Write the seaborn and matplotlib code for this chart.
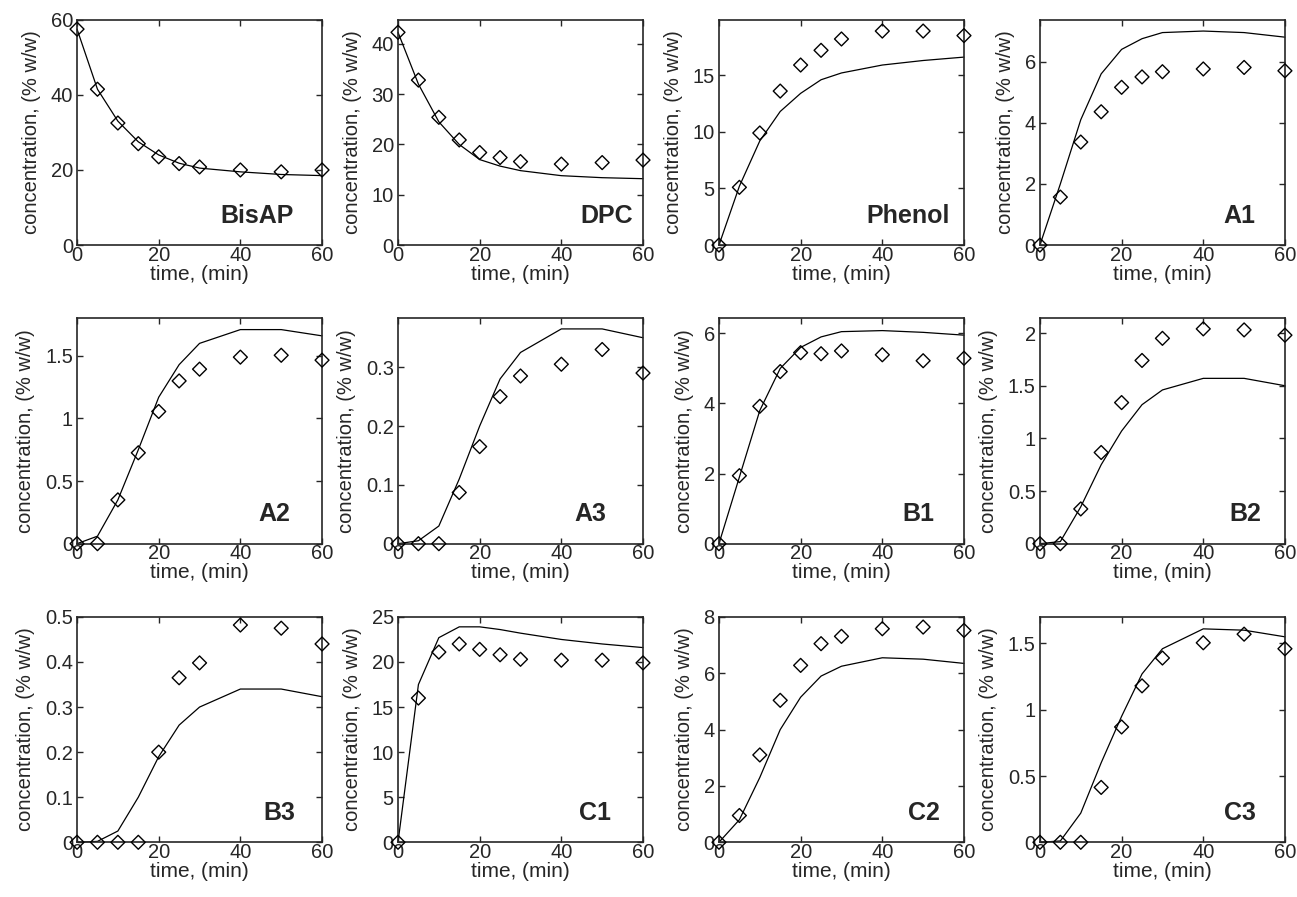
import numpy as np
import pandas as pd
import seaborn as sns
import matplotlib.pyplot as plt

# sampling times (min)
time = [0, 5, 10, 15, 20, 25, 30, 40, 50, 60]

species = ['BisAP', 'DPC', 'Phenol', 'A1',
           'A2', 'A3', 'B1', 'B2',
           'B3', 'C1', 'C2', 'C3']

# measured concentrations (% w/w), diamonds
exp_bisap = [57.5, 41.5, 32.5, 27.0, 23.5, 21.7, 20.8, 20.0, 19.5, 20.0]
exp_dpc = [42.3, 32.8, 25.4, 20.9, 18.4, 17.4, 16.6, 16.1, 16.4, 16.9]
exp_phenol = [0.0, 5.1, 9.9, 13.6, 15.9, 17.2, 18.2, 18.9, 18.9, 18.5]
exp_a1 = [0.0, 1.57, 3.37, 4.36, 5.16, 5.5, 5.67, 5.76, 5.81, 5.7]
exp_a2 = [0.0, 0.0, 0.35, 0.726, 1.056, 1.30, 1.394, 1.49, 1.505, 1.466]
exp_a3 = [0.0, 0.0, 0.0, 0.087, 0.165, 0.25, 0.285, 0.305, 0.33, 0.29]
exp_b1 = [0.0, 1.94, 3.92, 4.91, 5.45, 5.42, 5.5, 5.39, 5.22, 5.29]
exp_b2 = [0.0, 0.0, 0.33, 0.866, 1.34, 1.74, 1.95, 2.04, 2.03, 1.98]
exp_b3 = [0.0, 0.0, 0.0, 0.0, 0.2, 0.365, 0.398, 0.482, 0.475, 0.44]
exp_c1 = [0.0, 16.0, 21.1, 22.0, 21.4, 20.8, 20.3, 20.2, 20.2, 19.9]
exp_c2 = [0.0, 0.95, 3.1, 5.04, 6.28, 7.05, 7.31, 7.58, 7.64, 7.52]
exp_c3 = [0.0, 0.0, 0.0, 0.414, 0.87, 1.18, 1.39, 1.505, 1.57, 1.46]

# model predictions (% w/w), solid line
mod_bisap = [57.5, 41.5, 33.0, 27.5, 24.0, 21.8, 20.5, 19.5, 18.8, 18.5]
mod_dpc = [42.3, 32.0, 24.5, 20.0, 17.0, 15.7, 14.8, 13.8, 13.4, 13.2]
mod_phenol = [0.0, 5.2, 9.2, 11.8, 13.4, 14.6, 15.2, 15.9, 16.3, 16.6]
mod_a1 = [0.0, 2.0, 4.1, 5.6, 6.4, 6.75, 6.95, 7.0, 6.95, 6.8]
mod_a2 = [0.0, 0.06, 0.35, 0.75, 1.17, 1.43, 1.6, 1.71, 1.71, 1.66]
mod_a3 = [0.0, 0.005, 0.03, 0.11, 0.2, 0.28, 0.325, 0.365, 0.365, 0.35]
mod_b1 = [0.0, 1.9, 3.8, 5.0, 5.6, 5.9, 6.05, 6.08, 6.03, 5.95]
mod_b2 = [0.0, 0.02, 0.35, 0.75, 1.07, 1.32, 1.46, 1.57, 1.57, 1.5]
mod_b3 = [0.0, 0.002, 0.025, 0.1, 0.19, 0.26, 0.3, 0.34, 0.34, 0.323]
mod_c1 = [0.0, 17.5, 22.7, 23.9, 23.9, 23.6, 23.2, 22.5, 22.0, 21.6]
mod_c2 = [0.0, 0.8, 2.3, 4.0, 5.15, 5.9, 6.25, 6.55, 6.5, 6.35]
mod_c3 = [0.0, 0.01, 0.22, 0.6, 0.95, 1.27, 1.46, 1.61, 1.6, 1.55]

exp_all = [exp_bisap, exp_dpc, exp_phenol, exp_a1, exp_a2, exp_a3,
           exp_b1, exp_b2, exp_b3, exp_c1, exp_c2, exp_c3]
mod_all = [mod_bisap, mod_dpc, mod_phenol, mod_a1, mod_a2, mod_a3,
           mod_b1, mod_b2, mod_b3, mod_c1, mod_c2, mod_c3]

# axis settings per panel
y_top = [60, 44.8, 19.9, 7.37, 1.8, 0.383, 6.43, 2.14, 0.5, 25, 8, 1.7]
y_step = [20, 10, 5, 2, 0.5, 0.1, 2, 0.5, 0.1, 5, 2, 0.5]
label_x = [0.885, 0.96, 0.94, 0.88, 0.87, 0.85, 0.88, 0.905, 0.89, 0.87, 0.90, 0.88]

sns.set_style("ticks")
plt.rcParams['font.family'] = ['Liberation Sans', 'DejaVu Sans']

fig, axes = plt.subplots(3, 4, figsize=(12.97, 8.97), dpi=100)
fig.subplots_adjust(left=0.0594, right=0.9907, top=0.978, bottom=0.061,
                    wspace=0.31, hspace=0.325)

for k, ax in enumerate(axes.flat):
    df = pd.DataFrame({'time': time, 'exp': exp_all[k], 'model': mod_all[k]})

    sns.lineplot(data=df, x='time', y='model', color='black',
                 linewidth=0.9, ax=ax, clip_on=False)
    sns.scatterplot(data=df, x='time', y='exp', marker='D', s=50,
                    facecolors='none', edgecolor='black', linewidth=1.0,
                    ax=ax, clip_on=False, zorder=3)

    ax.set_xlim(0, 60)
    ax.set_ylim(0, y_top[k])
    ax.set_xticks([0, 20, 40, 60])
    yt = np.arange(0, y_top[k] + 1e-9, y_step[k])
    ax.set_yticks(yt)
    ax.set_yticklabels(['%g' % v for v in yt])

    for sp in ax.spines.values():
        sp.set_visible(True)
        sp.set_linewidth(1.2)
    ax.tick_params(direction='in', top=True, right=True, length=4,
                   width=1, labelsize=14.5, pad=3)
    ax.tick_params(axis='x', pad=0.5)

    ax.set_xlabel('time, (min)', fontsize=15, labelpad=0)
    ax.set_ylabel('concentration, (% w/w)', fontsize=14.5, labelpad=7)

    ax.text(label_x[k], 0.1, species[k], transform=ax.transAxes,
            ha='right', va='baseline', fontsize=18, fontweight='bold')

fig.savefig('out.png', dpi=100, facecolor='white')
